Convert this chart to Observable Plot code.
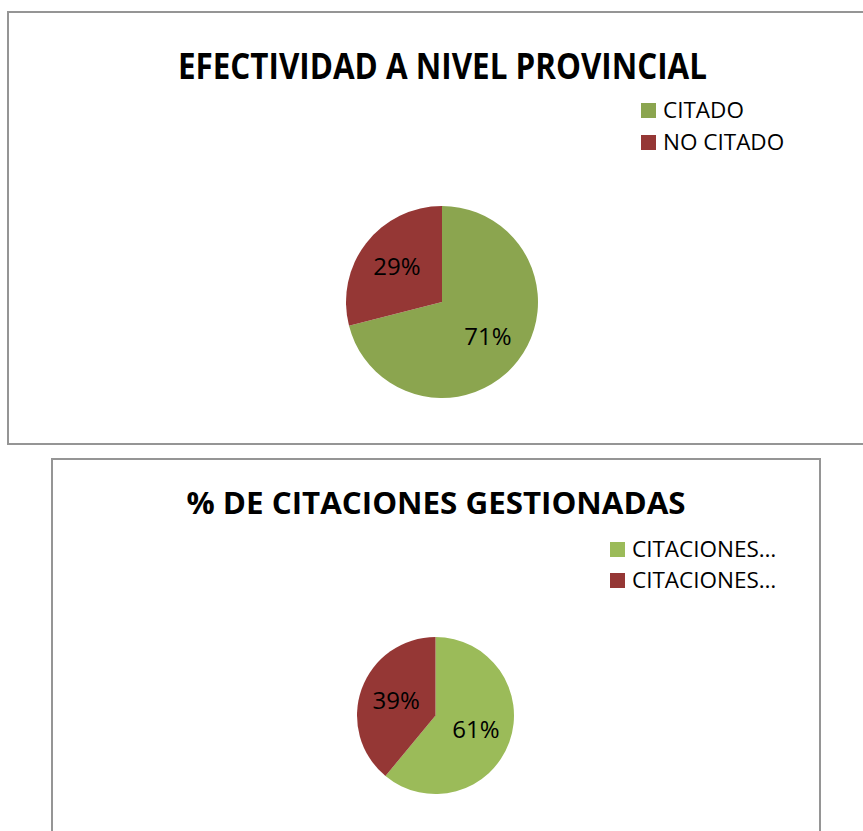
<!DOCTYPE html>
<html>
<head>
<meta charset="utf-8">
<script src="https://cdn.jsdelivr.net/npm/d3@7"></script>
<script src="https://cdn.jsdelivr.net/npm/@observablehq/plot@0.6"></script>
<style>
html, body { margin: 0; padding: 0; width: 863px; height: 831px; overflow: hidden; background: #fff; }
#root { position: relative; width: 863px; height: 831px; overflow: hidden; }
.box { position: absolute; box-sizing: border-box; border: 2px solid #959595; background: #fff; }
.chart { position: absolute; left: 0; }
</style>
</head>
<body>
<div id="root">
  <div class="box" style="left:7px; top:11px; width:880px; height:434px;"></div>
  <div class="box" style="left:51px; top:458px; width:770px; height:420px;"></div>
</div>
<script>
// ---- Data ----
const title1 = "EFECTIVIDAD A NIVEL PROVINCIAL";
const categories1 = ["CITADO", "NO CITADO"];
const values1 = [71, 29];
const labels1 = ["71%", "29%"];
const colors1 = ["#8ba54f", "#953735"];

const title2 = "% DE CITACIONES GESTIONADAS";
const categories2 = ["CITACIONES…", "CITACIONES…"];
const values2 = [61, 39];
const labels2 = ["61%", "39%"];
const colors2 = ["#9bbb59", "#953735"];

// ---- Layout (positions only) ----
const layouts = [
  { top: 0, height: 445, cx: 442, cy: 302, r: 96, labelR: 0.6,
    title: { x: 442.5, y: 79, len: 529, size: 35 },
    legend: { x: 641, y: 103, step: 32, sw: 15, tx: 663, size: 22.5 } },
  { top: 445, height: 386, cx: 435.5, cy: 270.5, r: 78.5, labelR: 0.54,
    title: { x: 436, y: 69, len: 499, size: 30 },
    legend: { x: 610, y: 97, step: 31, sw: 15, tx: 632, size: 22.5 } }
];

function drawChart(title, categories, values, labels, colors, L) {
  const data = categories.map((c, i) => ({ category: c, value: values[i], label: labels[i], color: colors[i] }));
  const arcs = d3.pie().sort(null).value(d => d.value)(data);
  const labelData = arcs.map(a => {
    const mid = (a.startAngle + a.endAngle) / 2;
    return { x: L.labelR * Math.sin(mid), y: L.labelR * Math.cos(mid), text: a.data.label };
  });

  const pieMark = (index, scales) => {
    const x0 = scales.x(0), y0 = scales.y(0), R = scales.x(1) - x0;
    const arc = d3.arc().innerRadius(0).outerRadius(R);
    const g = d3.create("svg:g").attr("transform", `translate(${x0},${y0})`);
    g.selectAll("path").data(arcs).join("path")
      .attr("d", arc)
      .attr("fill", d => d.data.color)
      .attr("stroke", "none");
    return g.node();
  };

  const svg = Plot.plot({
    width: 863,
    height: L.height,
    margin: 0,
    style: { background: "none", overflow: "visible" },
    x: { domain: [-1, 1], range: [L.cx - L.r, L.cx + L.r], axis: null },
    y: { domain: [-1, 1], range: [L.cy + L.r, L.cy - L.r], axis: null },
    marks: [
      pieMark,
      Plot.text(labelData, {
        x: "x", y: "y", text: "text",
        fontSize: 24, fill: "#000",
        fontFamily: "Open Sans"
      })
    ]
  });

  const s = d3.select(svg);
  s.append("text")
    .attr("x", L.title.x).attr("y", L.title.y)
    .attr("text-anchor", "middle")
    .attr("font-family", "Open Sans")
    .attr("font-weight", "bold")
    .attr("font-size", L.title.size)
    .attr("textLength", L.title.len)
    .attr("lengthAdjust", "spacingAndGlyphs")
    .attr("fill", "#000")
    .text(title);

  const lg = s.append("g").attr("text-anchor", "start");
  data.forEach((d, i) => {
    lg.append("rect")
      .attr("x", L.legend.x).attr("y", L.legend.y + i * L.legend.step)
      .attr("width", L.legend.sw).attr("height", L.legend.sw)
      .attr("fill", d.color);
    lg.append("text")
      .attr("x", L.legend.tx).attr("y", L.legend.y + i * L.legend.step + L.legend.sw - 0.5)
      .attr("text-anchor", "start")
      .attr("font-family", "Open Sans")
      .attr("font-size", L.legend.size)
      .attr("fill", "#000")
      .text(d.category);
  });

  svg.classList.add("chart");
  svg.style.position = "absolute";
  svg.style.left = "0px";
  svg.style.top = L.top + "px";
  document.getElementById("root").appendChild(svg);
}

drawChart(title1, categories1, values1, labels1, colors1, layouts[0]);
drawChart(title2, categories2, values2, labels2, colors2, layouts[1]);
</script>
</body>
</html>
